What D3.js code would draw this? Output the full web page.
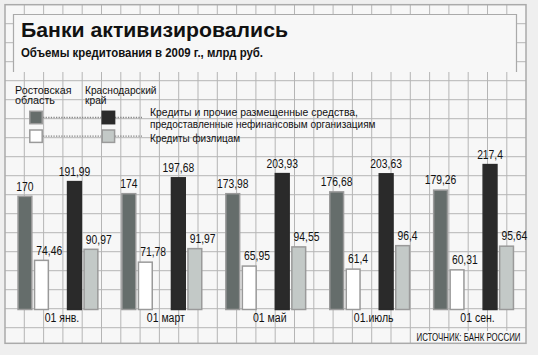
<!DOCTYPE html>
<html><head><meta charset="utf-8">
<script src="https://cdn.jsdelivr.net/npm/d3@7"></script>
<style>
html,body{margin:0;padding:0;background:#efefef;}
svg{display:block;}
text{font-family:"Liberation Sans",Arial,sans-serif;fill:#111;}
</style></head>
<body>
<svg id="c" width="538" height="355"></svg>
<script>
const categories = ["01 янв.", "01 март", "01 май", "01.июль", "01 сен."];
const rostovOrg  = [170, 174, 173.98, 176.68, 179.26];
const rostovPhys = [74.46, 71.78, 65.95, 61.4, 60.31];
const krasOrg    = [191.99, 197.68, 203.93, 203.63, 217.4];
const krasPhys   = [90.97, 91.97, 94.55, 96.4, 95.64];
const seriesKeys = ["ro", "rp", "_", "ko", "kp"];
const title = "Банки активизировались";
const subtitle = "Объемы кредитования в 2009 г., млрд руб.";
const regionLabels = [["Ростовская", "область"], ["Краснодарский", "край"]];
const legendLabels = [["Кредиты и прочие размещенные средства,", "предоставленные нефинансовым организациям"], ["Кредиты физлицам"]];
const source = "ИСТОЧНИК: БАНК РОССИИ";

const svg = d3.select("#c");
const W = 538, H = 355;
const gx0 = 5, gx1 = 526, gy0 = 4.7, gy1 = 343.3;
const cellW = 19.3, cellH = 19;

// squeeze a text horizontally to k of its natural width
function squeeze(sel, k) {
  sel.each(function () {
    const w = this.getComputedTextLength();
    d3.select(this).attr("textLength", w * k).attr("lengthAdjust", "spacingAndGlyphs");
  });
  return sel;
}

// background
svg.append("rect").attr("x", 0).attr("y", 0).attr("width", W).attr("height", H).attr("fill", "#efefef");
svg.append("rect").attr("x", gx0).attr("y", gy0).attr("width", gx1 - gx0).attr("height", gy1 - gy0).attr("fill", "#f7f7f7");

// grid
const grid = svg.append("g").attr("stroke", "#b5b5b5").attr("stroke-width", 1);
for (let x = gx0 + cellW; x < gx1 - 2; x += cellW) {
  grid.append("line").attr("x1", x).attr("x2", x).attr("y1", gy0).attr("y2", gy1);
}
for (let y = gy0 + cellH; y < gy1 - 2; y += cellH) {
  grid.append("line").attr("x1", gx0).attr("x2", gx1).attr("y1", y).attr("y2", y);
}

// source background (hides grid behind the source line)
svg.append("rect").attr("x", 414).attr("y", 331).attr("width", 111).attr("height", 12).attr("fill", "#f7f7f7");

svg.append("rect").attr("x", gx0).attr("y", gy0).attr("width", gx1 - gx0).attr("height", gy1 - gy0)
  .attr("fill", "none").attr("stroke", "#aaaaaa").attr("stroke-width", 1.5);

// title box
svg.append("rect").attr("x", 13).attr("y", 14).attr("width", 504).attr("height", 58).attr("fill", "#f7f7f7");
svg.append("path").attr("d", "M13.5,72 V14.5 H516.5 V72").attr("fill", "none").attr("stroke", "#aaaaaa").attr("stroke-width", 1.2);

svg.append("text").attr("x", 21).attr("y", 36.5)
  .attr("font-weight", "bold").attr("font-size", 20).text(title)
  .attr("textLength", 267).attr("lengthAdjust", "spacingAndGlyphs");
svg.append("text").attr("x", 21).attr("y", 57)
  .attr("font-weight", "bold").attr("font-size", 12.5).text(subtitle)
  .attr("textLength", 242).attr("lengthAdjust", "spacingAndGlyphs");

// scales
const y = d3.scaleLinear().domain([0, 220]).range([309.5, 309.5 - 220 * 0.67]);
const x0 = d3.scaleBand().domain(categories).range([17.3, 17.3 + 5 * 103.9]).paddingInner(0).paddingOuter(0);
const x1 = d3.scaleBand().domain(seriesKeys).range([0, 81.3]).paddingInner(0.073).paddingOuter(0);

const styles = {
  ro: {fill: "#656d6b", stroke: "#9a9a9a"},
  rp: {fill: "#ffffff", stroke: "#9a9a9a"},
  ko: {fill: "#2a2a2a", stroke: "#2a2a2a"},
  kp: {fill: "#c3c9c7", stroke: "#9a9a9a"}
};
const seriesData = {ro: rostovOrg, rp: rostovPhys, ko: krasOrg, kp: krasPhys};

// legend
const leg = svg.append("g");
const regionWidths = [[56.5, 40], [71.5, 21.5]];
regionLabels.forEach((lines, i) => {
  lines.forEach((t, j) => {
    leg.append("text").attr("x", i === 0 ? 15 : 85).attr("y", 93.5 + j * 10.5)
      .attr("font-size", 11).text(t)
      .attr("textLength", regionWidths[i][j]).attr("lengthAdjust", "spacingAndGlyphs");
  });
});
const legRows = [[["ro", "ko"], 117.5], [["rp", "kp"], 136.2]];
legRows.forEach(([keys, cy]) => {
  leg.append("line").attr("x1", 43).attr("x2", 101).attr("y1", cy).attr("y2", cy)
    .attr("stroke", "#888").attr("stroke-width", 1.3).attr("stroke-dasharray", "1.3,1.3");
  leg.append("line").attr("x1", 115).attr("x2", 142).attr("y1", cy).attr("y2", cy)
    .attr("stroke", "#888").attr("stroke-width", 1.3).attr("stroke-dasharray", "1.3,1.3");
  keys.forEach((k, i) => {
    leg.append("rect").attr("x", i === 0 ? 29.8 : 102.2).attr("y", cy - 6.2).attr("width", 12.4).attr("height", 12.4)
      .attr("fill", styles[k].fill).attr("stroke", k === "ko" ? "#2a2a2a" : "#9a9a9a").attr("stroke-width", 1.5);
  });
});
const legendWidths = [[208, 225.5], [90]];
legendLabels.forEach((lines, r) => {
  lines.forEach((t, j) => {
    leg.append("text").attr("x", 150).attr("y", r === 0 ? 115.5 + j * 12.8 : 141.8)
      .attr("font-size", 11.5).text(t)
      .attr("textLength", legendWidths[r][j]).attr("lengthAdjust", "spacingAndGlyphs");
  });
});

// bars
const bars = svg.append("g");
["ro", "rp", "ko", "kp"].forEach(k => {
  const vals = seriesData[k];
  categories.forEach((c, i) => {
    const v = vals[i];
    const bx = x0(c) + x1(k);
    const bw = x1.bandwidth();
    bars.append("rect").attr("x", bx + 0.75).attr("y", y(v) + 0.75)
      .attr("width", bw - 1.5).attr("height", y(0) - y(v) - 0.75)
      .attr("fill", styles[k].fill).attr("stroke", styles[k].stroke).attr("stroke-width", 1.5);
    const phys = (k === "rp" || k === "kp");
    const t = bars.append("text")
      .attr("x", phys ? bx + 2.5 : bx + bw / 2)
      .attr("y", y(v) - 5)
      .attr("text-anchor", phys ? "start" : "middle")
      .attr("font-size", 12)
      .text(String(v).replace(".", ","));
    squeeze(t, 0.86);
  });
});

// category labels
categories.forEach(c => {
  const t = svg.append("text")
    .attr("x", x0(c) + 81.3 / 2 + 4).attr("y", 322)
    .attr("text-anchor", "middle").attr("font-size", 12.5).text(c);
  squeeze(t, 0.84);
});

// source
svg.append("text").attr("x", 520.5).attr("y", 340.8)
  .attr("text-anchor", "end").attr("font-size", 10.5).text(source)
  .attr("textLength", 104).attr("lengthAdjust", "spacingAndGlyphs");
</script>
</body></html>
